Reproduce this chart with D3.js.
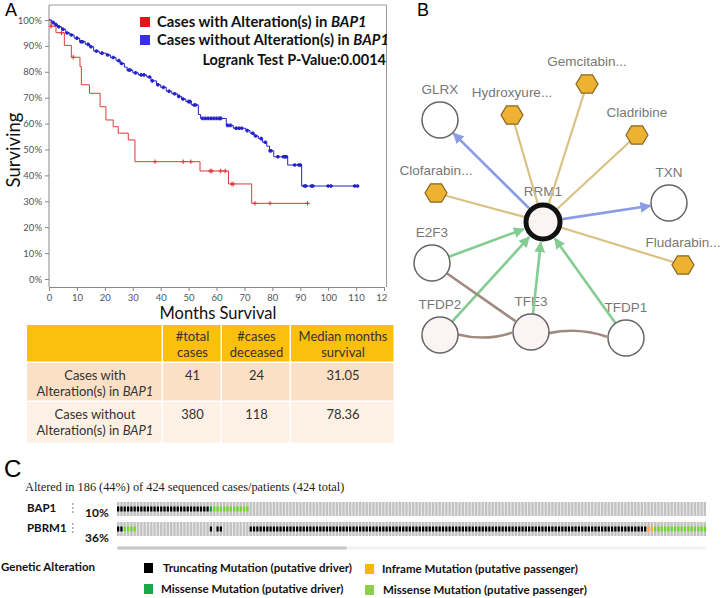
<!DOCTYPE html>
<html>
<head>
<meta charset="utf-8">
<script src="https://cdn.jsdelivr.net/npm/d3@7"></script>
<style>
  body { margin: 0; background: #fff; }
  svg { display: block; }
</style>
</head>
<body>
<svg id="fig" width="723" height="598"></svg>
<script>
// ---- panel A: Kaplan-Meier (months, % surviving) ----
const redStepMonths = [0, 0.7, 2.5, 5.5, 8, 11.1, 11.6, 14.5, 18.3, 20.4, 23, 24.8, 28.4, 30.8, 54.1, 64.3, 72.6];
const redStepSurv   = [100, 97.6, 95.1, 90.2, 85.6, 82, 75, 71.7, 66.5, 61.4, 58.8, 56.3, 53.7, 45.3, 41.7, 36.7, 29.2];
const redEndMonth = 93;
const redCensorMonths = [0.7, 4.5, 8.7, 38, 48.1, 50.8, 57.7, 58.3, 61.5, 63.1, 65.5, 66, 73.8, 79.2, 92.6];

const blueStepMonths = [0, 1, 2, 3, 4.5, 6, 7.5, 9, 11, 13, 14.7, 16, 18, 20.5, 22, 24, 25.5, 27, 28, 30, 32, 35, 36.5, 38.5, 40, 42, 44, 46, 47.5, 49, 51, 53.5, 54.3, 63.5, 66, 70.5, 72, 73.5, 75, 76.5, 78, 79, 80.5, 85.5, 90.5];
const blueStepSurv   = [100, 99, 98.2, 97.4, 96.4, 95, 94.2, 93, 91.6, 90.6, 89.7, 88, 87.2, 86.5, 85.5, 84.3, 83.2, 81.8, 80.7, 79.6, 78.8, 78, 76.5, 75, 74, 72.5, 71.5, 70.5, 69.5, 68.5, 67.2, 63.5, 62, 59.3, 58.2, 57.3, 56.3, 55.2, 54.2, 52.8, 51.3, 49.5, 47.2, 44, 35.9];
const blueEndMonth = 110.5;
const blueCensorMonths = [1.5, 2.5, 3.5, 5, 6.5, 8, 10, 11.5, 12, 14, 15, 17, 19, 21, 23, 25, 26, 28.5, 29, 31, 33, 34, 36, 37, 39, 41, 43, 45, 46.5, 48, 50, 50.5, 52, 52.5, 55, 56, 57, 58, 59, 60, 61, 61.5, 64, 65, 67, 68, 69, 71, 73, 74, 76, 77.5, 79.2, 79.5, 82, 84, 84.5, 85, 88, 89.5, 90, 91.5, 92, 94, 94.5, 100, 101, 109.5, 110.5];

const xTicks = [0, 10, 20, 30, 40, 50, 60, 70, 80, 90, 100, 110, 120];
const yTicks = [0, 10, 20, 30, 40, 50, 60, 70, 80, 90, 100];
const kmLegend = ["Cases with Alteration(s) in ", "Cases without Alteration(s) in "];
const kmGene = "BAP1";
const pValueText = "Logrank Test P-Value:0.0014";

// ---- table ----
const tableHeaders = ["", "#total|cases", "#cases|deceased", "Median months|survival"];
const rowLabelTop = ["Cases with", "Cases without"];
const totalCases = [41, 380];
const casesDeceased = [24, 118];
const medianMonths = ["31.05", "78.36"];

// ---- panel B: network ----
const nodeNames = ["RRM1", "GLRX", "TXN", "E2F3", "TFDP2", "TFE3", "TFDP1", "Hydroxyure...", "Gemcitabin...", "Cladribine", "Clofarabin...", "Fludarabin..."];
const nodeKinds = ["focus", "gene", "gene", "gene", "gene", "gene", "gene", "drug", "drug", "drug", "drug", "drug"];
const edgeSource = ["RRM1", "RRM1", "RRM1", "RRM1", "RRM1", "RRM1", "RRM1", "E2F3", "TFDP2", "TFE3", "TFDP1", "E2F3", "TFDP2", "TFE3"];
const edgeTarget = ["GLRX", "TXN", "Hydroxyure...", "Gemcitabin...", "Cladribine", "Clofarabin...", "Fludarabin...", "RRM1", "RRM1", "RRM1", "RRM1", "TFE3", "TFE3", "TFDP1"];
const edgeKinds  = ["controls", "controls", "drug", "drug", "drug", "drug", "drug", "expression", "expression", "expression", "expression", "complex", "complex", "complex"];

// ---- panel C: oncoprint ----
const oncoTitle = "Altered in 186 (44%) of 424 sequenced cases/patients (424 total)";
const oncoGenes = ["BAP1", "PBRM1"];
const oncoPct = ["10%", "36%"];
const bap1RunKinds = ["trunc", "missDrv", "missPass", "none"];
const bap1RunLens  = [28, 1, 11, 138];
const pbrm1RunKinds = ["trunc", "missPass", "none", "trunc", "none", "trunc", "none", "trunc", "inframe", "missPass"];
const pbrm1RunLens  = [2, 4, 22, 1, 1, 2, 8, 120, 2, 16];
const legendLabels = ["Truncating Mutation (putative driver)", "Missense Mutation (putative driver)", "Inframe Mutation (putative passenger)", "Missense Mutation (putative passenger)"];
const legendKinds = ["trunc", "missDrv", "inframe", "missPass"];

const svg = d3.select("#fig");
const calibri = "Lato, 'Open Sans', sans-serif";

// ================= Panel A =================
svg.append("text").attr("x", 5).attr("y", 16)
    .style("font", "18px 'Liberation Sans', Arial, sans-serif").text("A");

svg.append("clipPath").attr("id", "kmclip")
    .append("rect").attr("x", 0).attr("y", 0).attr("width", 387).attr("height", 310);

const km = svg.append("g").attr("clip-path", "url(#kmclip)");

const x = d3.scaleLinear().domain([0, 120]).range([49, 384]);
const y = d3.scaleLinear().domain([0, 100]).range([279, 20]);

// frame
km.append("path")
    .attr("d", `M${x(0)},5 H386.5 V287`)
    .attr("fill", "none").attr("stroke", "#9a9a9a").attr("stroke-width", 1);

km.append("g")
    .attr("transform", "translate(0,287)")
    .call(d3.axisBottom(x).tickValues(xTicks).tickSize(4).tickSizeOuter(0))
    .call(g => g.select(".domain").attr("stroke", "#888"))
    .call(g => g.selectAll(".tick line").attr("stroke", "#888"))
    .call(g => g.selectAll("text").attr("fill", "#555").style("font", `9.5px ${calibri}`));

km.append("g")
    .attr("transform", `translate(${x(0)},0)`)
    .call(d3.axisLeft(y).tickValues(yTicks).tickFormat(d => d + "%").tickSize(4).tickSizeOuter(0))
    .call(g => g.select(".domain").attr("d", "M0,5V287").attr("stroke", "#888"))
    .call(g => g.selectAll(".tick line").attr("stroke", "#888"))
    .call(g => g.selectAll("text").attr("fill", "#555").style("font", `9.5px ${calibri}`));

let survAt = (months, surv, t) => {
    let s = surv[0];
    for (let i = 0; i < months.length; i++) if (months[i] <= t) s = surv[i];
    return s;
};

let stepLine = d3.line().x(d => x(d[0])).y(d => y(d[1])).curve(d3.curveStepAfter);

let drawCurve = (months, surv, end, censors, color, markSize, markWidth) => {
    let pts = months.map((m, i) => [m, surv[i]]);
    pts.push([end, surv[surv.length - 1]]);
    km.append("path").attr("d", stepLine(pts))
        .attr("fill", "none").attr("stroke", color).attr("stroke-width", 1);
    km.append("g").selectAll("path").data(censors).join("path")
        .attr("d", d => {
            let cx = x(d), cy = y(survAt(months, surv, d));
            return `M${cx - markSize},${cy}H${cx + markSize}M${cx},${cy - markSize}V${cy + markSize}`;
        })
        .attr("stroke", color).attr("stroke-width", markWidth);
};

drawCurve(redStepMonths, redStepSurv, redEndMonth, redCensorMonths, "#e0383c", 2.2, 1.1);
drawCurve(blueStepMonths, blueStepSurv, blueEndMonth, blueCensorMonths, "#2323c8", 1.8, 2);

// legend
const legColors = ["#e3141b", "#3a2fe0"];
kmLegend.forEach((lab, i) => {
    km.append("rect").attr("x", 140).attr("y", 17 + i * 18).attr("width", 10).attr("height", 10)
        .attr("fill", legColors[i]);
    let t = km.append("text").attr("x", 157).attr("y", 27 + i * 18)
        .style("font", `bold 14.8px ${calibri}`).attr("fill", "#111");
    t.append("tspan").text(lab);
    t.append("tspan").style("font-style", "italic").text(kmGene);
});
km.append("text").attr("x", 386).attr("y", 65).attr("text-anchor", "end")
    .style("font", `bold 14.5px ${calibri}`).attr("fill", "#111").text(pValueText);

svg.append("text").attr("transform", "translate(20,150) rotate(-90)")
    .attr("text-anchor", "middle").style("font", `18.5px ${calibri}`).attr("fill", "#111").text("Surviving");
svg.append("text").attr("x", 218).attr("y", 319)
    .attr("text-anchor", "middle").style("font", `16.5px ${calibri}`).attr("fill", "#111").text("Months Survival");

// table
const colEdges = [27, 163, 222, 291, 395];
const rowEdges = [325, 363, 402, 444];
const rowFill = ["#fbbf0e", "#fbe0c6", "#fdf0e4"];
const tbl = svg.append("g");
rowFill.forEach((f, r) => {
    for (let c = 0; c < 4; c++) {
        tbl.append("rect").attr("x", colEdges[c]).attr("y", rowEdges[r])
            .attr("width", colEdges[c + 1] - colEdges[c] - 1.5).attr("height", rowEdges[r + 1] - rowEdges[r] - 1.5)
            .attr("fill", f);
    }
});
let colMid = c => (colEdges[c] + colEdges[c + 1]) / 2;
let cellText = (c, yy, s) => tbl.append("text").attr("x", colMid(c)).attr("y", yy)
    .attr("text-anchor", "middle").style("font", `13px ${calibri}`).attr("fill", "#333").text(s);
tableHeaders.forEach((h, c) => {
    h.split("|").forEach((line, k) => { if (line) cellText(c, 341 + k * 16, line); });
});
rowLabelTop.forEach((lab, r) => {
    let y0 = 380 + r * 39;
    cellText(0, y0, lab);
    let t = cellText(0, y0 + 16, "Alteration(s) in ");
    t.append("tspan").style("font-style", "italic").text(kmGene);
    cellText(1, y0, totalCases[r]);
    cellText(2, y0, casesDeceased[r]);
    cellText(3, y0, medianMonths[r]);
});

// ================= Panel B =================
svg.append("text").attr("x", 417).attr("y", 16)
    .style("font", "18px 'Liberation Sans', Arial, sans-serif").text("B");

// node positions from the layout
const layout = {
    "RRM1": [543, 222], "GLRX": [440, 120], "TXN": [669, 203], "E2F3": [432, 263],
    "TFDP2": [440, 335], "TFE3": [531, 332], "TFDP1": [626, 338],
    "Hydroxyure...": [512, 115], "Gemcitabin...": [587, 84], "Cladribine": [637, 135],
    "Clofarabin...": [436, 193], "Fludarabin...": [683, 265]
};
const nodes = nodeNames.map((n, i) => ({name: n, kind: nodeKinds[i], x: layout[n][0], y: layout[n][1]}));
const byName = Object.fromEntries(nodes.map(n => [n.name, n]));
const nodeR = {focus: 19.5, gene: 18, drug: 11};
const edgeColor = {controls: "#8a9ce6", drug: "#d9c184", expression: "#84cc92", complex: "#a08a80"};

const defs = svg.append("defs");
["controls", "expression"].forEach(k => {
    defs.append("marker").attr("id", "arr-" + k)
        .attr("viewBox", "0 0 10 10").attr("refX", 9).attr("refY", 5)
        .attr("markerWidth", 4.2).attr("markerHeight", 4.2).attr("markerUnits", "strokeWidth")
        .attr("orient", "auto")
        .append("path").attr("d", "M0,0L10,5L0,10z").attr("fill", edgeColor[k]);
});

const net = svg.append("g");
const labelFont = "13.5px 'Liberation Sans', Arial, sans-serif";

// labels first (edges pass over them)
const labelDy = {focus: -26, gene: -26, drug: -18};
net.append("g").selectAll("text").data(nodes).join("text")
    .attr("x", d => d.x).attr("y", d => d.y + labelDy[d.kind])
    .attr("text-anchor", "middle").style("font", labelFont).attr("fill", "#777")
    .text(d => d.name);

const edges = edgeSource.map((s, i) => ({s: byName[s], t: byName[edgeTarget[i]], kind: edgeKinds[i]}));
net.append("g").selectAll("path").data(edges).join("path")
    .attr("d", e => {
        let dx = e.t.x - e.s.x, dy = e.t.y - e.s.y, len = Math.hypot(dx, dy);
        let ux = dx / len, uy = dy / len;
        let rs = e.kind === "drug" ? 0 : nodeR[e.s.kind];
        let rt = e.kind === "drug" ? 0 : nodeR[e.t.kind] + 1;
        let x1 = e.s.x + ux * rs, y1 = e.s.y + uy * rs, x2 = e.t.x - ux * rt, y2 = e.t.y - uy * rt;
        if (e.kind === "complex") {
            let bend = e.s.name === "TFDP2" ? 8 : (e.s.name === "TFE3" ? -8 : 0);
            let mx = (x1 + x2) / 2 - uy * bend, my = (y1 + y2) / 2 + ux * bend;
            return `M${x1},${y1}Q${mx},${my} ${x2},${y2}`;
        }
        return `M${x1},${y1}L${x2},${y2}`;
    })
    .attr("fill", "none").attr("stroke", e => edgeColor[e.kind])
    .attr("stroke-width", e => e.kind === "drug" ? 2.2 : 2.6)
    .attr("marker-end", e => (e.kind === "controls" || e.kind === "expression") ? `url(#arr-${e.kind})` : null);

let hexPath = r => d3.range(6).map(k => {
    let a = k * Math.PI / 3;
    return [r * Math.cos(a), r * Math.sin(a) * 0.95];
});
const nodeG = net.append("g").selectAll("g").data(nodes).join("g")
    .attr("transform", d => `translate(${d.x},${d.y})`);
nodeG.filter(d => d.kind === "drug").append("path")
    .attr("d", "M" + hexPath(11).join("L") + "Z")
    .attr("fill", "#edb232").attr("stroke", "#86661e").attr("stroke-width", 1.2);
nodeG.filter(d => d.kind === "gene").append("circle")
    .attr("r", nodeR.gene)
    .attr("fill", d => (d.name === "TFDP2" || d.name === "TFE3") ? "#fcf4f4" : "#fff")
    .attr("stroke", "#666").attr("stroke-width", 1.5);
nodeG.filter(d => d.kind === "focus").append("circle")
    .attr("r", 17).attr("fill", "#fcf3f3").attr("stroke", "#111").attr("stroke-width", 5);

// ================= Panel C =================
svg.append("text").attr("x", 4).attr("y", 477)
    .style("font", "24px 'Liberation Sans', Arial, sans-serif").text("C");
svg.append("text").attr("x", 25).attr("y", 491)
    .style("font", "12.3px 'Liberation Serif', 'Times New Roman', serif").attr("fill", "#222").text(oncoTitle);

const mutColor = {trunc: "#000", missDrv: "#14a04a", missPass: "#6fd628", inframe: "#f6ac3a"};
const legendColor = {trunc: "#000", missDrv: "#18a84a", missPass: "#8ccf4d", inframe: "#f8b800"};

let expandRuns = (kinds, lens) => kinds.flatMap((k, i) => d3.range(lens[i]).map(() => k));
const tracks = [expandRuns(bap1RunKinds, bap1RunLens), expandRuns(pbrm1RunKinds, pbrm1RunLens)];
const nCols = tracks[0].length;

const col = d3.scaleBand().domain(d3.range(nCols)).range([117, 706]).paddingInner(0.33);
const trackTop = [502, 522];
const trackH = 14;

const onco = svg.append("g");
oncoGenes.forEach((g, gi) => {
    let ty = trackTop[gi];
    onco.append("text").attr("x", 27).attr("y", ty + 10)
        .style("font", `bold 11.5px ${calibri}`).attr("fill", "#111").text(g);
    for (let k = 0; k < 3; k++) {
        onco.append("rect").attr("x", 72).attr("y", ty + 1 + k * 4).attr("width", 1.5).attr("height", 2).attr("fill", "#aaa");
    }
    onco.append("text").attr("x", 85).attr("y", gi === 0 ? 517 : 542)
        .style("font", `bold 12px ${calibri}`).attr("fill", "#111").text(oncoPct[gi]);
    onco.append("rect").attr("x", 117).attr("y", ty).attr("width", 589).attr("height", trackH).attr("fill", "#eaeaea");
    let gg = onco.append("g");
    gg.selectAll("rect.bg").data(tracks[gi]).join("rect").attr("class", "bg")
        .attr("x", (d, i) => col(i)).attr("y", ty).attr("width", col.bandwidth()).attr("height", trackH)
        .attr("fill", "#c2c2c2");
    gg.selectAll("rect.mut").data(tracks[gi].map((k, i) => ({k, i})).filter(d => d.k !== "none")).join("rect")
        .attr("class", "mut")
        .attr("x", d => col(d.i)).attr("y", ty + trackH / 2 - 2.5).attr("width", col.bandwidth()).attr("height", 5)
        .attr("fill", d => mutColor[d.k]);
});
// scrollbar
onco.append("rect").attr("x", 117).attr("y", 546.5).attr("width", 589).attr("height", 3).attr("fill", "#f1f1f1");
onco.append("rect").attr("x", 117).attr("y", 546.5).attr("width", 230).attr("height", 3).attr("rx", 1.5).attr("fill", "#c6c6c6");

// legend
onco.append("text").attr("x", 1).attr("y", 571)
    .style("font", `bold 11.5px ${calibri}`).attr("fill", "#111").text("Genetic Alteration");
const legX = [144, 144, 365, 365], legTextX = [163, 161, 382, 383], legY = [563, 584, 564, 585];
legendKinds.forEach((k, i) => {
    onco.append("rect").attr("x", legX[i]).attr("y", legY[i]).attr("width", 9).attr("height", 10).attr("fill", legendColor[k]);
    onco.append("text").attr("x", legTextX[i]).attr("y", legY[i] + 9)
        .style("font", `bold 11.5px ${calibri}`).attr("fill", "#111").text(legendLabels[i]);
});
</script>
</body>
</html>
